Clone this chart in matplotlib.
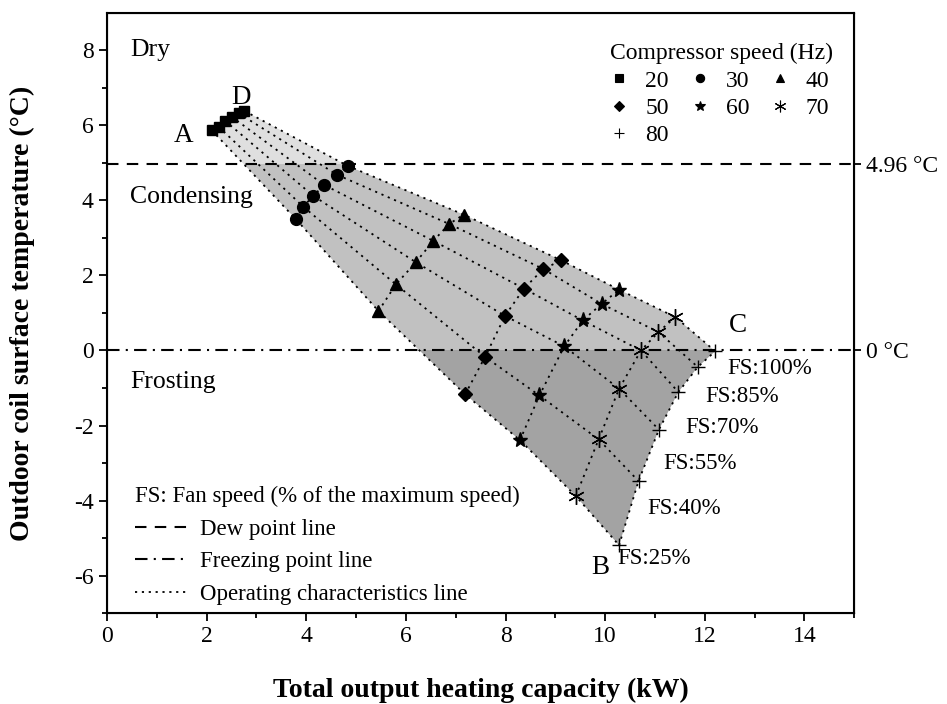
import numpy as np
import matplotlib
matplotlib.use("Agg")
import matplotlib.pyplot as plt
from matplotlib.patches import Polygon
from matplotlib.lines import Line2D

plt.rcParams["font.family"] = ["Liberation Serif", "DejaVu Serif"]
plt.rcParams["axes.unicode_minus"] = False

# operating points, one list per compressor speed, ordered FS 25 -> 100 %
fan_speeds = [25, 40, 55, 70, 85, 100]
compressor_speeds = [20, 30, 40, 50, 60, 70, 80]

cap_20 = [2.10, 2.24, 2.37, 2.50, 2.64, 2.76]
temp_20 = [5.87, 5.96, 6.12, 6.23, 6.32, 6.38]
cap_30 = [3.79, 3.94, 4.14, 4.36, 4.62, 4.83]
temp_30 = [3.50, 3.83, 4.12, 4.41, 4.68, 4.92]
cap_40 = [5.45, 5.80, 6.20, 6.55, 6.87, 7.16]
temp_40 = [1.05, 1.76, 2.35, 2.92, 3.37, 3.62]
cap_50 = [7.19, 7.59, 7.99, 8.37, 8.76, 9.12]
temp_50 = [-1.17, -0.17, 0.92, 1.65, 2.17, 2.40]
cap_60 = [8.29, 8.68, 9.18, 9.55, 9.93, 10.28]
temp_60 = [-2.39, -1.20, 0.11, 0.80, 1.24, 1.62]
cap_70 = [9.41, 9.87, 10.28, 10.72, 11.07, 11.41]
temp_70 = [-3.88, -2.37, -1.02, 0.00, 0.49, 0.89]
cap_80 = [10.28, 10.67, 11.08, 11.47, 11.86, 12.21]
temp_80 = [-5.19, -3.48, -2.11, -1.11, -0.44, -0.02]

dew_point = 4.96
freezing_point = 0.0

cap = np.array([cap_20, cap_30, cap_40, cap_50, cap_60, cap_70, cap_80])
temp = np.array([temp_20, temp_30, temp_40, temp_50, temp_60, temp_70, temp_80])

markers = ["s", "o", "^", "D", "*", (6, 2, 0), "+"]
msizes = [7.5, 8.5, 9, 7.5, 11, 12, 10]

fig = plt.figure(figsize=(9.47, 7.04), dpi=100)
ax = fig.add_axes([0.113, 0.129, 0.789, 0.853])
ax.set_xlim(0, 15)
ax.set_ylim(-7, 9)

# outline of the operating envelope: FS25 edge, 80 Hz edge, FS100 edge, 20 Hz edge
outline = np.vstack([
    np.column_stack([cap[:, 0], temp[:, 0]]),
    np.column_stack([cap[-1, 1:], temp[-1, 1:]]),
    np.column_stack([cap[::-1, -1], temp[::-1, -1]])[1:],
    np.column_stack([cap[0, ::-1], temp[0, ::-1]])[1:-1],
])
env = Polygon(outline, closed=True, fill=False, lw=0)
ax.add_patch(env)
for lo, hi, shade in [(dew_point, 9, "#dfdfdf"),
                      (freezing_point, dew_point, "#c1c1c1"),
                      (-7, freezing_point, "#a3a3a3")]:
    band = ax.axhspan(lo, hi, color=shade, lw=0, zorder=0.5)
    band.set_clip_path(env)

dots = (0, (1.2, 2.6))
dashes = (0, (5.5, 4))
dashdot = (0, (6, 3, 1, 3))
ax.axhline(dew_point, color="black", lw=1.5, ls=dashes, zorder=2)
ax.axhline(freezing_point, color="black", lw=1.5, ls=dashdot, zorder=2)

for j in range(len(fan_speeds)):
    ax.plot(cap[:, j], temp[:, j], color="black", lw=1.3, ls=dots, zorder=3)
for i in range(len(compressor_speeds)):
    ax.plot(cap[i], temp[i], color="black", lw=1.3, ls=dots, zorder=3)

handles = []
for i, hz in enumerate(compressor_speeds):
    ax.plot(cap[i], temp[i], ls="none", marker=markers[i], ms=msizes[i],
            color="black", mew=1.0, zorder=4)
    handles.append(Line2D([], [], ls="none", marker=markers[i], color="black",
                          ms=msizes[i] * 0.7, mew=0.8, label=str(hz)))

# row-wise ordering for a 3-column legend
order = [0, 3, 6, 1, 4, 2, 5]
leg1 = ax.legend([handles[k] for k in order], [handles[k].get_label() for k in order],
                 ncol=3, loc="upper right", bbox_to_anchor=(1.0, 0.985),
                 title="Compressor speed (Hz)", title_fontsize=17, fontsize=17,
                 frameon=False, alignment="left", handlelength=0.8,
                 handletextpad=0.7, columnspacing=0.9, labelspacing=0.25)
ax.add_artist(leg1)

line_handles = [
    Line2D([], [], color="black", lw=1.5, ls=dashes, label="Dew point line"),
    Line2D([], [], color="black", lw=1.5, ls=dashdot, label="Freezing point line"),
    Line2D([], [], color="black", lw=1.3, ls=dots, label="Operating characteristics line"),
]
ax.legend(handles=line_handles, loc="lower left", bbox_to_anchor=(0.01, -0.02),
          title="FS: Fan speed (% of the maximum speed)", title_fontsize=16.5,
          fontsize=16.5, frameon=False, alignment="left", handlelength=2.3,
          handletextpad=0.55, labelspacing=0.5)

# region names and corner letters
ax.text(0.47, 8.0, "Dry", fontsize=18.5, va="center")
ax.text(0.47, 4.1, "Condensing", fontsize=18.5, va="center")
ax.text(0.47, -0.85, "Frosting", fontsize=18.5, va="center")
ax.text(1.53, 5.72, "A", fontsize=19.5, ha="center", va="center")
ax.text(9.9, -5.77, "B", fontsize=19.5, ha="center", va="center")
ax.text(12.67, 0.66, "C", fontsize=19.5, ha="center", va="center")
ax.text(2.69, 6.73, "D", fontsize=19.5, ha="center", va="center")

fs_offsets = [(-0.04, -0.34), (0.17, -0.72), (0.08, -0.89), (0.14, -0.94), (0.15, -0.78), (0.24, -0.46)]
for j, fs in enumerate(fan_speeds):
    dx, dy = fs_offsets[j]
    ax.text(cap[-1, j] + dx, temp[-1, j] + dy, f"FS:{fs}%", fontsize=16.5, va="center")

ax.set_xticks(np.arange(0, 15, 2))
ax.set_xticks(np.arange(1, 16, 2), minor=True)
ax.set_yticks(np.arange(-6, 9, 2))
ax.set_yticks(np.arange(-7, 9, 2), minor=True)
ax.tick_params(which="major", direction="out", length=6, width=1.3, labelsize=17)
ax.tick_params(which="minor", direction="out", length=3.5, width=1.3)
for s in ax.spines.values():
    s.set_linewidth(1.5)

ax2 = ax.twinx()
ax2.set_ylim(ax.get_ylim())
ax2.set_yticks([freezing_point, dew_point], labels=["0 °C", "4.96 °C"])
ax2.tick_params(direction="out", length=5, width=1.3, labelsize=17)

ax.set_xlabel("Total output heating capacity (kW)", fontsize=20, fontweight="bold")
ax.set_ylabel("Outdoor coil surface temperature (°C)", fontsize=20, fontweight="bold")
ax.xaxis.set_label_coords(0.5, -0.108)
ax.yaxis.set_label_coords(-0.097, 0.5)

fig.savefig("out.png", dpi=100)
